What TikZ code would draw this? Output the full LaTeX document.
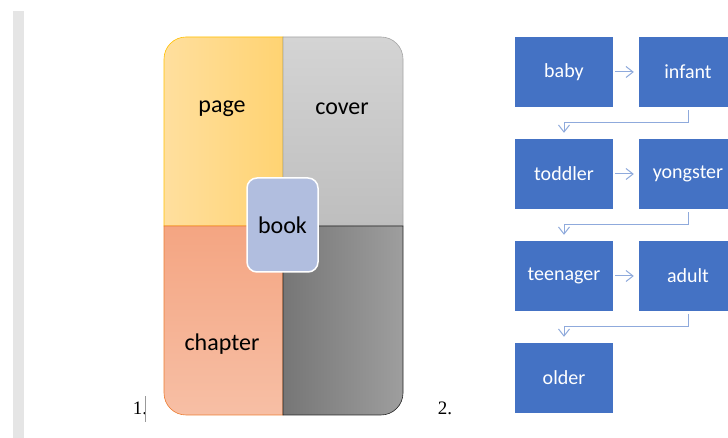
\documentclass[tikz,border=0pt]{standalone}
\usepackage{fontspec}
\setmainfont{Carlito}
\newfontfamily\numfont{Liberation Serif}
\usetikzlibrary{arrows.meta}
\definecolor{pageA}{HTML}{FFDF9E}
\definecolor{pageB}{HTML}{FFD372}
\definecolor{pageE}{HTML}{FFC000}
\definecolor{coverA}{HTML}{D4D4D4}
\definecolor{coverB}{HTML}{BEBEBE}
\definecolor{coverE}{HTML}{A5A5A5}
\definecolor{chapA}{HTML}{F4A582}
\definecolor{chapB}{HTML}{F7BFA5}
\definecolor{chapE}{HTML}{ED7D31}
\definecolor{backA}{HTML}{767676}
\definecolor{backB}{HTML}{9E9E9E}
\definecolor{bookfill}{HTML}{B1BEDF}
\definecolor{stageblue}{HTML}{4472C4}
\definecolor{flowblue}{HTML}{8FAADC}
\tikzset{
  label/.style={font=\fontsize{24}{28}\selectfont},
  stage/.style={fill=stageblue,text=white,minimum width=98pt,minimum height=70pt,
    inner sep=0pt,font=\fontsize{20}{24}\selectfont},
  flow/.style={flowblue,line width=1pt,-{Straight Barb[length=7pt,width=11pt]}},
  num/.style={font=\numfont\fontsize{19}{22}\selectfont}
}
\begin{document}
\begin{tikzpicture}[x=1pt,y=1pt]
  \useasboundingbox (0,0) rectangle (728,438);
  \clip (0,0) rectangle (728,438);
  \fill[white] (0,0) rectangle (728,438);
  %% page margin
  \fill[black!10] (13,0) rectangle (24,427);
  %% book quadrants
  \shade[left color=pageA,right color=pageB,draw=pageE,line width=0.6pt]
    (164,212) -- (164,379) arc[start angle=180,end angle=90,radius=22] -- (283,401) -- (283,212) -- cycle;
  \shade[top color=coverA,bottom color=coverB,draw=coverE,line width=0.6pt]
    (283,212) -- (283,401) -- (381,401) arc[start angle=90,end angle=0,radius=22] -- (403,212) -- cycle;
  \shade[top color=chapA,bottom color=chapB,draw=chapE,line width=0.6pt]
    (164,212) -- (164,45) arc[start angle=180,end angle=270,radius=22] -- (283,23) -- (283,212) -- cycle;
  \shade[left color=backA,right color=backB,draw=black!85,line width=0.6pt]
    (283,212) -- (283,23) -- (381,23) arc[start angle=270,end angle=360,radius=22] -- (403,212) -- cycle;
  %% labels
  \node[label] (page) at (222,329) {page};
  \node[label] (cover) at (342,329) {cover};
  \node[label] (chapter) at (222,94) {chapter};
  \node[label,fill=bookfill,draw=white,line width=1.5pt,rounded corners=10pt,
    minimum width=71pt,minimum height=94pt,inner sep=0pt] (book) at (282.5,213) {book};
  %% numbers
  \node[num] (one) at (140,30) {1.};
  \draw[black!40,line width=0.5pt] (145,16) -- (145,42);
  \node[num] (two) at (445,30) {2.};
  %% stages
  \node[stage] (baby) at (564,366) {baby};
  \node[stage] (infant) at (688,366) {infant};
  \node[stage] (toddler) at (564,264) {toddler};
  \node[stage] (yongster) at (688,264) {yongster};
  \node[stage] (teenager) at (564,162) {teenager};
  \node[stage] (adult) at (688,162) {adult};
  \node[stage] (older) at (564,60) {older};
  %% arrows
  \draw[flow,shorten <=2pt,shorten >=5pt] (baby) -- (infant);
  \draw[flow,shorten <=2pt,shorten >=5pt] (toddler) -- (yongster);
  \draw[flow,shorten <=2pt,shorten >=5pt] (teenager) -- (adult);
  \draw[flow,shorten <=3pt,shorten >=6pt] (infant.south) -- ++(0,-15) -| (toddler.north);
  \draw[flow,shorten <=3pt,shorten >=6pt] (yongster.south) -- ++(0,-15) -| (teenager.north);
  \draw[flow,shorten <=3pt,shorten >=6pt] (adult.south) -- ++(0,-15) -| (older.north);
\end{tikzpicture}
\end{document}
